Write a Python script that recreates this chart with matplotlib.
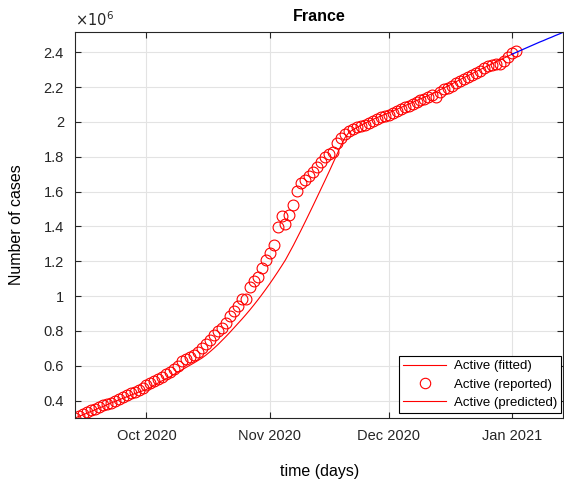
import pandas as pd
import matplotlib.pyplot as plt
import matplotlib.dates as mdates
from matplotlib.lines import Line2D
from matplotlib.ticker import FuncFormatter

plt.rcParams['font.family'] = ['Liberation Sans', 'DejaVu Sans']

# Active cases in France, millions
start_date = '2020-09-13'
reported = [
    0.300, 0.313, 0.326, 0.337, 0.346, 0.354, 0.363, 0.374, 0.382, 0.389,
    0.400, 0.411, 0.422, 0.435, 0.445, 0.450, 0.460, 0.472, 0.490, 0.503,
    0.515, 0.526, 0.535, 0.551, 0.564, 0.582, 0.600, 0.625, 0.637, 0.649,
    0.662, 0.679, 0.702, 0.724, 0.749, 0.778, 0.797, 0.816, 0.846, 0.885,
    0.914, 0.945, 0.981, 0.983, 1.050, 1.084, 1.112, 1.160, 1.208, 1.246,
    1.294, 1.395, 1.460, 1.414, 1.466, 1.525, 1.605, 1.647, 1.667, 1.687,
    1.713, 1.743, 1.772, 1.800, 1.815, 1.829, 1.880, 1.906, 1.928, 1.945,
    1.960, 1.970, 1.976, 1.985, 1.995, 2.005, 2.014, 2.026, 2.035, 2.042,
    2.052, 2.064, 2.074, 2.085, 2.094, 2.104, 2.115, 2.123, 2.133, 2.145,
    2.154, 2.144, 2.172, 2.186, 2.197, 2.208, 2.224, 2.237, 2.249, 2.260,
    2.270, 2.278, 2.293, 2.310, 2.323, 2.327, 2.330, 2.335, 2.352, 2.373,
    2.395, 2.405,
]
fitted = [
    0.300, 0.310, 0.319, 0.328, 0.338, 0.347, 0.357, 0.366, 0.376, 0.386,
    0.395, 0.404, 0.413, 0.422, 0.431, 0.440, 0.449, 0.456, 0.464, 0.477,
    0.490, 0.502, 0.515, 0.528, 0.538, 0.552, 0.566, 0.578, 0.591, 0.604,
    0.617, 0.631, 0.645, 0.662, 0.681, 0.701, 0.722, 0.745, 0.768, 0.792,
    0.817, 0.842, 0.867, 0.893, 0.920, 0.948, 0.977, 1.007, 1.038, 1.070,
    1.103, 1.137, 1.172, 1.208, 1.250, 1.292, 1.337, 1.382, 1.428, 1.475,
    1.522, 1.570, 1.618, 1.666, 1.715, 1.765, 1.815, 1.865, 1.910, 1.940,
    1.955, 1.968, 1.980, 1.992, 2.003, 2.014, 2.024, 2.034, 2.043, 2.052,
    2.062, 2.072, 2.082, 2.092, 2.102, 2.112, 2.122, 2.132, 2.142, 2.152,
    2.163, 2.174, 2.185, 2.196, 2.207, 2.219, 2.231, 2.243, 2.255, 2.266,
    2.277, 2.289, 2.300, 2.311, 2.322, 2.333, 2.344, 2.355, 2.366, 2.377,
    2.388,
]
predicted = [2.388, 2.398, 2.408, 2.418, 2.428, 2.438, 2.448, 2.458, 2.467,
             2.477, 2.486, 2.496, 2.505, 2.515]

rep_dates = pd.date_range(start_date, periods=len(reported))
fit_dates = pd.date_range(start_date, periods=len(fitted))
pred_dates = pd.date_range(fit_dates[-1], periods=len(predicted))

fig = plt.figure(figsize=(5.64, 4.8), dpi=100)
ax = fig.add_axes([0.133, 0.129, 0.866, 0.804])

ax.plot(fit_dates, fitted, color='red', lw=0.8)
ax.plot(rep_dates, reported, 'o', mfc='none', mec='red', ms=7.8, mew=0.8)
ax.plot(pred_dates, predicted, color='blue', lw=0.9)

ax.set_xlim(rep_dates[0], pred_dates[-1])
ax.set_ylim(min(reported), max(predicted))
ax.set_yticks([0.4, 0.6, 0.8, 1.0, 1.2, 1.4, 1.6, 1.8, 2.0, 2.2, 2.4])
ax.yaxis.set_major_formatter(FuncFormatter(lambda v, p: '%g' % v))
ax.xaxis.set_major_locator(mdates.MonthLocator())
ax.xaxis.set_major_formatter(mdates.DateFormatter('%b %Y'))

ax.grid(True, color='#e3e3e3', lw=0.8)
ax.set_axisbelow(True)
ax.tick_params(direction='in', length=4, top=True, right=True,
               labelsize=10.5, colors='#262626', pad=8)
for s in ax.spines.values():
    s.set_color('#262626')
    s.set_linewidth(0.8)

ax.set_title('France', fontsize=11.5, fontweight='bold', pad=8)
ax.set_xlabel('time (days)', fontsize=11.5, labelpad=15)
ax.set_ylabel('Number of cases', fontsize=11.5, labelpad=14)
ax.text(0.0, 1.008, r'$\times10^{6}$', transform=ax.transAxes,
        fontsize=10.5, color='#262626', ha='left', va='bottom')

handles = [
    Line2D([], [], color='red', lw=0.8),
    Line2D([], [], ls='none', marker='o', mfc='none', mec='red', ms=7.5, mew=0.8),
    Line2D([], [], color='red', lw=0.8),
]
labels = ['Active (fitted)', 'Active (reported)', 'Active (predicted)']
leg = ax.legend(handles, labels, loc='lower right', bbox_to_anchor=(0.996, 0.012),
                fontsize=9.5, fancybox=False, framealpha=1, edgecolor='black',
                borderpad=0.35, labelspacing=0.45, handlelength=3.2,
                handletextpad=0.6, borderaxespad=0)
leg.get_frame().set_linewidth(0.8)

fig.savefig('out.png', dpi=100)
